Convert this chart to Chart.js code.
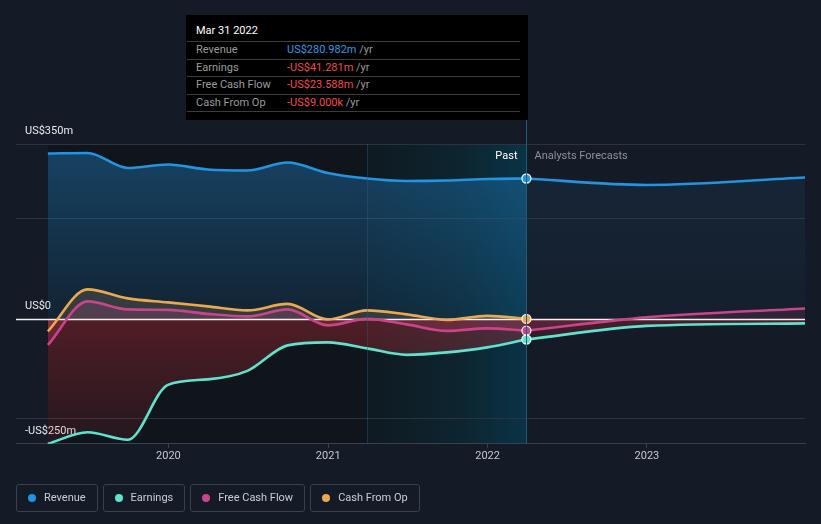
<!DOCTYPE html>
<html><head><meta charset="utf-8">
<script src="https://cdn.jsdelivr.net/npm/chart.js@4.4.1/dist/chart.umd.min.js"></script>
<style>
html,body{margin:0;padding:0;background:#151b26;}
body{width:821px;height:524px;position:relative;overflow:hidden;font-family:Roboto,"Noto Sans",sans-serif;}
#c{position:absolute;left:0;top:0;}
#tip{position:absolute;left:186px;top:15px;width:342px;height:105px;background:#000;font-size:11px;color:#9b9b9b;}
#tip .ttl{position:absolute;left:10px;top:7px;height:18px;line-height:18px;color:#fff;}
#tip .row{position:absolute;left:1px;right:8px;height:17px;line-height:15px;border-top:1px solid #3c3c3c;}
#tip .row .lb{position:absolute;left:9px;}
#tip .row .vl{position:absolute;left:100px;}
#tip .end{position:absolute;left:1px;right:8px;top:96px;border-top:1px solid #3c3c3c;}
#legend{position:absolute;left:16px;top:484px;display:flex;gap:5px;}
#legend .it{height:26px;line-height:24px;border:1px solid #3a404c;border-radius:3px;padding:0 11px;display:flex;align-items:center;font-size:11px;color:#c9cdd3;}
#legend .dot{width:8px;height:8px;border-radius:50%;margin-right:8px;}
</style></head><body>
<canvas id="c" width="821" height="524"></canvas>
<div id="tip"></div>
<div id="legend"></div>
<script>
// ---- data (US$ millions) ----
const pastDates = ['2019-03-31','2019-06-30','2019-09-30','2019-12-31','2020-03-31','2020-06-30','2020-09-30','2020-12-31','2021-03-31','2021-06-30','2021-09-30','2021-12-31','2022-03-31'];
const revenue  = [331, 332, 302, 309, 299, 297, 313, 292, 281, 276, 277, 280, 280.982];
const earnings = [-250, -227, -242, -132, -121, -104, -53, -47, -59, -72, -67, -57, -41.281];
const fcf      = [-52, 35, 19, 18, 10, 5, 19, -13, 0, -11, -24, -19, -23.588];
const cfo      = [-25, 59, 41, 33, 25, 17, 30, -1, 17, 9, -2, 6, -0.009];
const forecastDates    = ['2022-03-31','2022-12-31','2023-12-31'];
const revenueForecast  = [280.982, 268, 283];
const earningsForecast = [-41.281, -14, -9];
const fcfForecast      = [-23.588, 3, 21];
const seriesNames  = ['Revenue','Earnings','Free Cash Flow','Cash From Op'];
const seriesColors = ['#2394df','#5fe3cc','#c8458a','#e8a951'];
const yTicks  = [-250, -200, 0, 200, 350];
const yLabels = {'350':'US$350m','0':'US$0','-250':'-US$250m'};
const xTickYears = [2020, 2021, 2022, 2023];
const xRange = ['2019-01-17','2023-12-29'];
const bandStart = '2021-03-31';

const T = s => Date.parse(s + 'T00:00:00Z');
const pts = (dates, vals) => dates.map((d,i)=>({x:T(d), y:vals[i]}));
const FONT = 'Roboto, "Noto Sans", sans-serif';
const lastIdx = pastDates.length - 1;

function vgrad(c, top, bot, fromV, toV){
  const ch = c.chart; if(!ch.chartArea) return top;
  const y = ch.scales.y;
  const g = ch.ctx.createLinearGradient(0, y.getPixelForValue(fromV), 0, y.getPixelForValue(toV));
  g.addColorStop(0, top); g.addColorStop(1, bot); return g;
}
const lastPt = c => c.dataIndex === lastIdx ? 4.5 : 0;

function line(label, data, color, bg, isPast){
  return {label, data, borderColor: color, backgroundColor: bg, fill: 'origin', borderWidth: 2.6,
    cubicInterpolationMode: 'monotone', pointRadius: isPast ? lastPt : 0, pointHoverRadius: 0,
    pointBackgroundColor: color, pointBorderColor: 'rgba(255,255,255,0.9)', pointBorderWidth: 1.3};
}

const datasets = [
  line(seriesNames[0], pts(pastDates, revenue), seriesColors[0], c=>vgrad(c,'rgba(33,130,200,0.42)','rgba(33,130,200,0.13)',350,0), true),
  line(seriesNames[1], pts(pastDates, earnings), seriesColors[1], c=>vgrad(c,'rgba(205,45,55,0.34)','rgba(205,45,55,0.10)',0,-250), true),
  line(seriesNames[2], pts(pastDates, fcf), seriesColors[2], 'rgba(205,70,135,0.22)', true),
  line(seriesNames[3], pts(pastDates, cfo), seriesColors[3], 'rgba(232,169,79,0.18)', true),
  line(seriesNames[0]+' F', pts(forecastDates, revenueForecast), seriesColors[0], c=>vgrad(c,'rgba(33,130,200,0.12)','rgba(33,130,200,0.04)',350,0), false),
  line(seriesNames[1]+' F', pts(forecastDates, earningsForecast), seriesColors[1], c=>vgrad(c,'rgba(205,45,55,0.28)','rgba(205,45,55,0.05)',0,-60), false),
  line(seriesNames[2]+' F', pts(forecastDates, fcfForecast), seriesColors[2], 'rgba(205,70,135,0.14)', false),
];

const deco = {
  id: 'deco',
  beforeDraw(chart){
    const {ctx, chartArea:a, scales:{x}} = chart;
    const x0 = x.getPixelForValue(T(pastDates[0]));
    const xb = x.getPixelForValue(T(bandStart));
    const xe = x.getPixelForValue(T(pastDates[lastIdx]));
    ctx.save();
    ctx.fillStyle = '#10151c';
    ctx.fillRect(x0, a.top, xb - x0, a.bottom - a.top);
    const g = ctx.createLinearGradient(xb, 0, xe, 0);
    g.addColorStop(0, '#0f1921'); g.addColorStop(0.6, '#0d2530'); g.addColorStop(1, '#0a3346');
    ctx.fillStyle = g;
    ctx.fillRect(xb, a.top, xe - xb, a.bottom - a.top);
    ctx.restore();
  },
  beforeDatasetsDraw(chart){
    const {ctx, chartArea:a, scales:{y}} = chart;
    const y0 = Math.round(y.getPixelForValue(0)) + 0.5;
    ctx.save();
    ctx.strokeStyle = '#f4f0f0'; ctx.lineWidth = 1.3;
    ctx.beginPath(); ctx.moveTo(a.left, y0); ctx.lineTo(a.right, y0); ctx.stroke();
    ctx.restore();
  },
  afterDraw(chart){
    const {ctx, chartArea:a, scales:{x}} = chart;
    const xb = Math.round(x.getPixelForValue(T(bandStart))) + 0.5;
    const xe = Math.round(x.getPixelForValue(T(pastDates[lastIdx]))) + 0.5;
    ctx.save();
    ctx.lineWidth = 1;
    ctx.strokeStyle = 'rgba(40,90,115,0.45)';
    ctx.beginPath(); ctx.moveTo(xb, a.top); ctx.lineTo(xb, a.bottom); ctx.stroke();
    ctx.strokeStyle = '#1c5d7b';
    ctx.beginPath(); ctx.moveTo(xe, 15); ctx.lineTo(xe, a.bottom); ctx.stroke();
    ctx.font = '11px ' + FONT;
    ctx.textBaseline = 'middle';
    ctx.fillStyle = '#ffffff'; ctx.textAlign = 'right';
    ctx.fillText('Past', xe - 9, a.top + 12.5);
    ctx.fillStyle = '#8b9099'; ctx.textAlign = 'left';
    ctx.fillText('Analysts Forecasts', xe + 8, a.top + 12.5);
    ctx.restore();
  }
};

new Chart(document.getElementById('c'), {
  type: 'line',
  data: {datasets},
  options: {
    responsive: false, animation: false, devicePixelRatio: 1,
    layout: {padding: {left: 16, right: 16, top: 144, bottom: 59}},
    plugins: {legend: {display: false}, tooltip: {enabled: false}, filler: {drawTime: 'beforeDatasetsDraw'}},
    events: [],
    scales: {
      x: {type: 'linear', min: T(xRange[0]), max: T(xRange[1]),
        afterBuildTicks(s){ s.ticks = xTickYears.map(yr => ({value: Date.UTC(yr,0,1)})); },
        grid: {drawOnChartArea: false, drawTicks: true, tickLength: 4, color: '#3b414c'},
        border: {display: true, color: '#3b414c'},
        ticks: {padding: 2, color: '#c5c9cf', font: {size: 11, family: FONT}, maxRotation: 0, autoSkip: false,
          callback: v => String(new Date(v).getUTCFullYear())}
      },
      y: {min: -250, max: 350,
        afterBuildTicks(s){ s.ticks = yTicks.map(v => ({value: v})); },
        afterFit(s){ s.width = 0; },
        border: {display: false},
        grid: {drawTicks: false, color: c => (c.tick && c.tick.value === 0) ? 'rgba(0,0,0,0)' : '#2d333e'},
        ticks: {mirror: true, padding: 9, labelOffset: -13, color: '#e8eaed', font: {size: 11, family: FONT},
          callback: v => (yLabels[String(v)] !== undefined ? yLabels[String(v)] : '')}
      }
    }
  },
  plugins: [deco]
});

// ---- tooltip box (HTML text) ----
const MONTHS = ['Jan','Feb','Mar','Apr','May','Jun','Jul','Aug','Sep','Oct','Nov','Dec'];
function fmtDate(s){ const d = new Date(T(s)); return MONTHS[d.getUTCMonth()] + ' ' + d.getUTCDate() + ' ' + d.getUTCFullYear(); }
function fmtVal(v){
  const a = Math.abs(v);
  const s = a >= 1 ? 'US$' + a.toFixed(3) + 'm' : 'US$' + (a*1000).toFixed(3) + 'k';
  return (v < 0 ? '-' : '') + s;
}
const tip = document.getElementById('tip');
let html = '<div class="ttl">' + fmtDate(pastDates[lastIdx]) + '</div>';
const lastVals = [revenue[lastIdx], earnings[lastIdx], fcf[lastIdx], cfo[lastIdx]];
const rowTops = [26, 43.5, 61, 78.5];
seriesNames.forEach((n,i)=>{
  const v = lastVals[i];
  const col = i === 0 ? '#2b9ae8' : (v < 0 ? '#f04a4a' : '#2b9ae8');
  html += '<div class="row" style="top:' + rowTops[i] + 'px"><span class="lb">' + n + '</span><span class="vl"><span style="color:' + col + '">' + fmtVal(v) + '</span> /yr</span></div>';
});
html += '<div class="end"></div>';
tip.innerHTML = html;

// ---- legend ----
const lg = document.getElementById('legend');
seriesNames.forEach((n,i)=>{
  const it = document.createElement('div'); it.className = 'it';
  it.innerHTML = '<span class="dot" style="background:' + seriesColors[i] + '"></span><span>' + n + '</span>';
  lg.appendChild(it);
});
</script>
</body></html>
